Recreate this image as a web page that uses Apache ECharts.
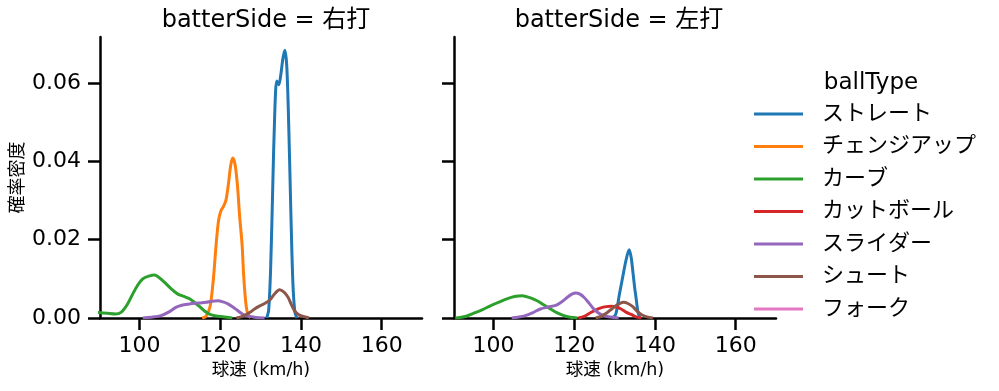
<!DOCTYPE html>
<html>
<head>
<meta charset="utf-8">
<script src="https://cdn.jsdelivr.net/npm/echarts@6/dist/echarts.min.js"></script>
<style>
html,body{margin:0;padding:0;background:#fff;}
#chart{width:999px;height:391px;}
</style>
</head>
<body>
<div id="chart"></div>
<script>
// ---- data ----
const ballTypes = ['ストレート','チェンジアップ','カーブ','カットボール','スライダー','シュート','フォーク'];
const panels = ['batterSide = 右打','batterSide = 左打'];
const xTicks = [100,120,140,160];
const yTicks = [0,0.02,0.04,0.06];

// 右打 (right-handed batters)
const R_straight = [[131.5,0],[132,0.002],[132.5,0.013],[133,0.033],[133.5,0.052],[134,0.0605],[134.5,0.0595],[135,0.062],[135.5,0.066],[136,0.0683],[136.5,0.064],[137,0.048],[137.5,0.027],[138,0.009],[138.5,0.0015],[139,0]];
const R_change = [[115.5,0],[116.5,0.0005],[117.5,0.003],[118.3,0.01],[119,0.019],[119.6,0.025],[120.2,0.0274],[120.8,0.0285],[121.4,0.030],[122,0.034],[122.6,0.039],[123.1,0.0408],[123.7,0.039],[124.3,0.0334],[124.8,0.026],[125.4,0.0189],[125.8,0.011],[126.2,0.0053],[126.7,0.0015],[127.5,0]];
const R_curve = [[88,0.0016],[90,0.0014],[92,0.0012],[94,0.001],[95.5,0.0015],[97,0.0035],[98.3,0.0061],[99.5,0.0083],[100.8,0.010],[102.3,0.0107],[103.7,0.011],[105.2,0.0100],[106.6,0.0087],[108,0.0073],[109.5,0.0061],[111,0.0055],[112.4,0.0049],[113.7,0.0039],[114.9,0.0029],[116.1,0.0018],[117.3,0.001],[119,0.0005],[120.6,0.0003],[123,0]];
const R_cutter = [];
const R_slider = [[100.8,0],[103,0.0002],[105.3,0.0006],[107.2,0.0015],[109,0.0027],[110.7,0.0033],[112.4,0.0036],[114.5,0.0038],[116.5,0.004],[118,0.0043],[119.4,0.0044],[120.7,0.0041],[121.9,0.0036],[123.1,0.0028],[124.3,0.0019],[125.4,0.0011],[126.4,0.0006],[128.5,0.0002],[131,0]];
const R_shoot = [[124,0],[125.5,0.0004],[127.3,0.0014],[128.5,0.0023],[129.8,0.0031],[131,0.0037],[132.3,0.0046],[133.5,0.0062],[134.7,0.0072],[135.8,0.0066],[136.8,0.0053],[137.6,0.0035],[138.4,0.0019],[139.5,0.0008],[141.3,0.0002],[142,0]];
const R_fork = [];

// 左打 (left-handed batters)
const L_straight = [[129.5,0],[130.3,0.001],[131.2,0.0061],[132,0.0104],[132.8,0.0146],[133.6,0.0174],[134.1,0.0155],[134.5,0.0121],[135,0.0075],[135.3,0.0053],[135.8,0.0015],[136.3,0]];
const L_change = [];
const L_curve = [[90.5,0],[93,0.0004],[95,0.0012],[97,0.002],[99.2,0.0031],[101.2,0.004],[103.3,0.0049],[105.2,0.0055],[107.1,0.0057],[109,0.0052],[110.8,0.0044],[112.5,0.0033],[114.1,0.0023],[115.8,0.0013],[117.4,0.0006],[119,0.0002],[120.8,0]];
const L_cutter = [[121,0],[122.5,0.0004],[124.1,0.0014],[125.4,0.0021],[126.6,0.0026],[127.9,0.0029],[129.1,0.003],[130.4,0.0028],[131.6,0.0023],[132.8,0.0015],[134.1,0.0009],[135.3,0.0003],[136.6,0]];
const L_slider = [[104.5,0],[106,0.0002],[107.9,0.0006],[109.8,0.0014],[111.6,0.0023],[113.5,0.0028],[115.4,0.0032],[117,0.0042],[118.3,0.0053],[119.4,0.0061],[120.4,0.0064],[121.4,0.0061],[122.4,0.0053],[123.5,0.004],[124.5,0.0027],[125.6,0.0016],[126.6,0.0009],[128.5,0.0003],[131,0]];
const L_shoot = [[125.3,0],[126.8,0.0005],[128.2,0.0014],[129.3,0.0023],[130.3,0.0031],[131.3,0.0037],[132.2,0.004],[133.3,0.0037],[134.5,0.0029],[135.5,0.0018],[136.6,0.0009],[138,0.0003],[139.5,0]];
const L_fork = [];

const rightData = [R_straight,R_change,R_curve,R_cutter,R_slider,R_shoot,R_fork];
const leftData  = [L_straight,L_change,L_curve,L_cutter,L_slider,L_shoot,L_fork];
const colors = ['#1f77b4','#ff7f0e','#2ca02c','#d62728','#9467bd','#8c564b','#e377c2'];

const FONT = '"DejaVu Sans", "Noto Sans CJK JP", sans-serif';
const chart = echarts.init(document.getElementById('chart'), null, {renderer:'canvas'});

const grids = [
  {left:100, top:37, width:322, height:281},
  {left:454, top:37, width:322, height:281}
];
function xAxis(i){
  return {
    type:'value', gridIndex:i, min:90.2, max:170,
    name:'球速 (km/h)', nameLocation:'middle', nameGap:43,
    nameTextStyle:{fontFamily:FONT, fontSize:17.5, color:'#000'},
    axisLine:{show:true, onZero:false, lineStyle:{color:'#000', width:2.5}},
    axisTick:{show:true, length:12, lineStyle:{color:'#000', width:2.5}, customValues:xTicks},
    axisLabel:{fontFamily:FONT, fontSize:22, color:'#000', margin:17, customValues:xTicks},
    splitLine:{show:false}
  };
}
function yAxis(i){
  return {
    type:'value', gridIndex:i, min:0, max:0.0717,
    name: i===0 ? '確率密度' : '', nameLocation:'middle', nameGap:73, nameRotate:90,
    nameTextStyle:{fontFamily:FONT, fontSize:18, color:'#000'},
    axisLine:{show:true, onZero:false, lineStyle:{color:'#000', width:2.5}},
    axisTick:{show:true, length:12, lineStyle:{color:'#000', width:2.5}, customValues:yTicks},
    axisLabel:{show: i===0, fontFamily:FONT, fontSize:22, color:'#000', margin:19,
      customValues:yTicks, formatter:v=>v.toFixed(2)},
    splitLine:{show:false}
  };
}
const series = [];
[rightData,leftData].forEach((set,gi)=>{
  set.forEach((d,k)=>{
    series.push({
      type:'line', name:ballTypes[k], xAxisIndex:gi, yAxisIndex:gi,
      data:d, smooth:0.3, showSymbol:false, symbol:'none', clip:true,
      lineStyle:{color:colors[k], width:3}, itemStyle:{color:colors[k]},
      emphasis:{disabled:true}, silent:true, animation:false, z:2+k
    });
  });
});

chart.setOption({
  animation:false,
  backgroundColor:'#fff',
  title:[
    {text:panels[0], left:261, top:4, textAlign:'center', textStyle:{fontFamily:FONT, fontSize:24, fontWeight:'normal', color:'#000'}},
    {text:panels[1], left:614, top:4, textAlign:'center', textStyle:{fontFamily:FONT, fontSize:24, fontWeight:'normal', color:'#000'}},
    {text:'ballType', left:866, top:67, textAlign:'center', textStyle:{fontFamily:FONT, fontSize:23, fontWeight:'normal', color:'#000'}}
  ],
  legend:{
    orient:'vertical', left:749, top:98, itemGap:10.5,
    icon:'rect', itemWidth:49, itemHeight:3,
    data:ballTypes,
    textStyle:{fontFamily:FONT, fontSize:22, color:'#000', lineHeight:22, padding:[0,0,0,14]},
    selectedMode:false
  },
  grid:grids,
  xAxis:[xAxis(0), xAxis(1)],
  yAxis:[yAxis(0), yAxis(1)],
  series:series
});
</script>
</body>
</html>
